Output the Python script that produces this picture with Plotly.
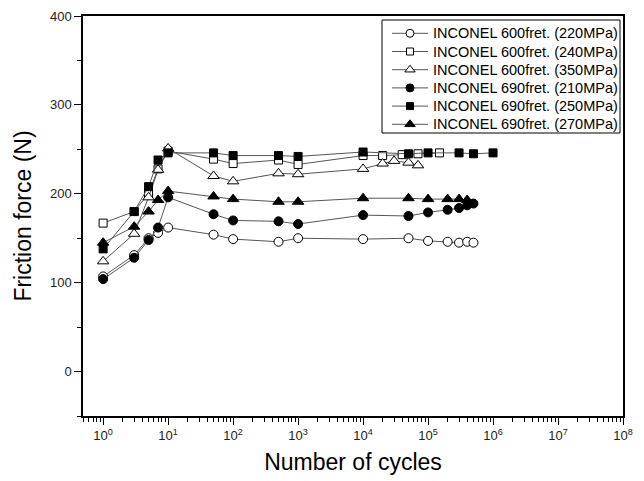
import plotly.graph_objects as go

names = [
    "INCONEL 600fret. (220MPa)",
    "INCONEL 600fret. (240MPa)",
    "INCONEL 600fret. (350MPa)",
    "INCONEL 690fret. (210MPa)",
    "INCONEL 690fret. (250MPa)",
    "INCONEL 690fret. (270MPa)",
]

x_600_220 = [1, 3, 5, 7, 10, 50, 100, 500, 1000, 1e4, 5e4, 1e5, 2e5, 3e5, 4e5, 5e5]
y_600_220 = [107, 131, 150, 156, 162, 154, 149, 146, 150, 149, 150, 147, 146, 145, 146, 145]

x_600_240 = [1, 3, 5, 7, 10, 50, 100, 500, 1000, 1e4, 2e4, 4e4, 7e4, 1.5e5]
y_600_240 = [167, 180, 200, 228, 248, 239, 234, 238, 233, 243, 243, 244, 245, 246]

x_600_350 = [1, 3, 5, 7, 10, 50, 100, 500, 1000, 1e4, 2e4, 3e4, 5e4, 7e4]
y_600_350 = [124, 155, 196, 227, 251, 220, 214, 223, 222, 228, 234, 237, 235, 232]

x_690_210 = [1, 3, 5, 7, 10, 50, 100, 500, 1000, 1e4, 5e4, 1e5, 2e5, 3e5, 4e5, 5e5]
y_690_210 = [104, 128, 148, 162, 196, 177, 170, 169, 166, 176, 175, 179, 182, 184, 187, 189]

x_690_250 = [1, 3, 5, 7, 10, 50, 100, 500, 1000, 1e4, 5e4, 1e5, 3e5, 5e5, 1e6]
y_690_250 = [138, 180, 208, 238, 246, 246, 243, 243, 242, 247, 245, 246, 246, 245, 246]

x_690_270 = [1, 3, 5, 7, 10, 50, 100, 500, 1000, 1e4, 5e4, 1e5, 2e5, 3e5, 4e5]
y_690_270 = [145, 163, 180, 193, 203, 197, 194, 191, 191, 195, 195, 194, 194, 194, 193]

x_tick_vals = [1, 10, 100, 1e3, 1e4, 1e5, 1e6, 1e7, 1e8]
x_tick_text = ["10<sup>%d</sup>" % i for i in range(9)]
x_minor_vals = [m * 10 ** k for k in range(-1, 8) for m in range(2, 10)]
y_tick_vals = [0, 100, 200, 300, 400]

series = [
    (x_600_220, y_600_220, "circle", "white", 9),
    (x_600_240, y_600_240, "square", "white", 8),
    (x_600_350, y_600_350, "triangle-up", "white", 10),
    (x_690_210, y_690_210, "circle", "black", 9),
    (x_690_250, y_690_250, "square", "black", 8),
    (x_690_270, y_690_270, "triangle-up", "black", 10),
]

# ---- layout geometry (page pixels of the 644x481 window) ----
PAGE_W, PAGE_H = 644, 481
OFF = 8                      # default body margin of the html page
PLOT_L, PLOT_R, PLOT_T, PLOT_B = 83, 623, 16, 416
LEG_X0, LEG_X1, LEG_Y0, LEG_Y1 = 382, 620, 20, 133
LEG_ROW0, LEG_STEP = 33.3, 18.2
LEG_LINE_X0, LEG_LINE_X1, LEG_TEXT_X = 392, 428, 431

W, H = PAGE_W - OFF, PAGE_H - OFF
L, T = PLOT_L - OFF, PLOT_T - OFF
R, B = PAGE_W - PLOT_R, PAGE_H - PLOT_B

font_family = "Liberation Sans, Arial, sans-serif"
LINE_COLOR = "#555555"

fig = go.Figure()
for name, (xs, ys, sym, fill, size) in zip(names, series):
    fig.add_trace(go.Scatter(
        x=xs, y=ys, name=name, mode="lines+markers", showlegend=False,
        line=dict(color=LINE_COLOR, width=1),
        marker=dict(symbol=sym, size=size, color=fill,
                    line=dict(color="black", width=1)),
    ))

# ---- custom legend drawn on a pixel-based overlay axis ----
annotations = []
for i, (name, (xs, ys, sym, fill, size)) in enumerate(zip(names, series)):
    row_y = LEG_ROW0 + LEG_STEP * i
    fig.add_trace(go.Scatter(
        x=[LEG_LINE_X0, LEG_LINE_X1], y=[row_y, row_y], mode="lines",
        xaxis="x2", yaxis="y2", showlegend=False, hoverinfo="skip",
        line=dict(color=LINE_COLOR, width=1),
    ))
    fig.add_trace(go.Scatter(
        x=[(LEG_LINE_X0 + LEG_LINE_X1) / 2], y=[row_y], mode="markers",
        xaxis="x2", yaxis="y2", showlegend=False, hoverinfo="skip",
        marker=dict(symbol=sym, size=size - 1, color=fill,
                    line=dict(color="black", width=1)),
    ))
    annotations.append(dict(
        x=LEG_TEXT_X, y=row_y, xref="x2", yref="y2", text=name,
        showarrow=False, xanchor="left", yanchor="middle",
        font=dict(size=14.5, family=font_family, color="black"),
    ))

fig.update_layout(
    width=W, height=H,
    margin=dict(l=L, r=R, t=T, b=B, autoexpand=False),
    paper_bgcolor="white", plot_bgcolor="white",
    font=dict(family=font_family, color="black"),
    showlegend=False,
    annotations=annotations,
    shapes=[dict(type="rect", xref="x2", yref="y2",
                 x0=LEG_X0, x1=LEG_X1, y0=LEG_Y0, y1=LEG_Y1,
                 line=dict(color="black", width=1), fillcolor="rgba(0,0,0,0)",
                 layer="above")],
    xaxis=dict(
        type="log", range=[-0.31, 8], automargin=False,
        tickmode="array", tickvals=x_tick_vals, ticktext=x_tick_text,
        ticks="outside", ticklen=7, tickwidth=1, tickcolor="black",
        minor=dict(tickmode="array", tickvals=x_minor_vals, ticks="outside",
                   ticklen=4, tickcolor="black", showgrid=False),
        showline=True, linecolor="black", linewidth=1.5, mirror=True,
        showgrid=False, zeroline=False,
        tickfont=dict(size=13, color="#222222"),
        title=dict(text="Number of cycles", font=dict(size=23), standoff=12),
    ),
    yaxis=dict(
        range=[-50, 400], automargin=False,
        tickmode="array", tickvals=y_tick_vals,
        ticks="outside", ticklen=7, tickwidth=1, tickcolor="black",
        minor=dict(dtick=50, ticks="outside", ticklen=4, tickcolor="black",
                   showgrid=False),
        showline=True, linecolor="black", linewidth=1.5, mirror=True,
        showgrid=False, zeroline=False,
        tickfont=dict(size=13, color="#222222"),
        title=dict(text="Friction force (N)", font=dict(size=23), standoff=12),
    ),
    xaxis2=dict(overlaying="x", range=[PLOT_L, PLOT_R], visible=False,
                fixedrange=True),
    yaxis2=dict(overlaying="y", range=[PLOT_B, PLOT_T], visible=False,
                fixedrange=True),
)

fig.write_html("out.html")
